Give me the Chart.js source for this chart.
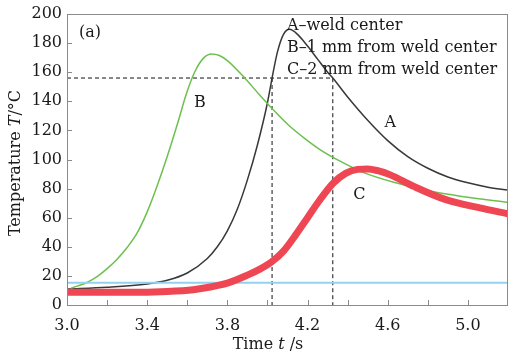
<!DOCTYPE html>
<html>
<head>
<meta charset="utf-8">
<script src="https://cdn.jsdelivr.net/npm/chart.js@4"></script>
<style>
  body { margin: 0; background: #fff; }
  #wrap { width: 509px; height: 357px; }
</style>
</head>
<body>
<div id="wrap"><canvas id="temps" width="509" height="357"></canvas></div>
<script>
// curve A - weld center
const timeA = [3.0, 3.2, 3.4, 3.5, 3.6, 3.7, 3.75, 3.8, 3.85, 3.9, 3.95, 4.0, 4.023, 4.05, 4.08, 4.11, 4.15, 4.2, 4.25, 4.3, 4.326, 4.4, 4.5, 4.6, 4.7, 4.8, 4.9, 5.0, 5.1, 5.2];
const tempA = [11, 12.2, 14.5, 17, 22, 32, 40, 51, 66, 86, 110, 139, 156, 174, 186, 189.5, 186, 178, 169, 160, 156, 143, 127, 113, 102, 94, 88, 84, 81, 79];
// curve B - 1 mm
const timeB = [3.02, 3.05, 3.1, 3.15, 3.2, 3.25, 3.3, 3.35, 3.4, 3.45, 3.5, 3.55, 3.6, 3.64, 3.68, 3.72, 3.76, 3.8, 3.88, 3.96, 4.03, 4.11, 4.19, 4.26, 4.36, 4.48, 4.64, 4.81, 4.97, 5.2];
const tempB = [11.5, 13, 15.5, 19.5, 25, 31.5, 39.5, 49.5, 64, 82, 102, 124, 147, 161, 169.5, 172.5, 171.5, 168, 157, 144.5, 134, 123, 114, 107, 99, 91, 84, 78.3, 74.6, 70.5];
// curve C - 2 mm
const timeC = [3.0, 3.3, 3.5, 3.63, 3.7, 3.8, 3.9, 3.96, 4.02, 4.08, 4.14, 4.2, 4.26, 4.33, 4.39, 4.45, 4.5, 4.55, 4.61, 4.73, 4.89, 5.06, 5.2];
const tempC = [8.7, 8.7, 9.3, 10.5, 12, 15, 20.5, 24.5, 29.5, 37, 48, 60, 72, 84, 90.5, 93.2, 93.5, 92.3, 89.6, 81.5, 72.4, 66.7, 62.7];
// flat blue line
const timeD = [3.0, 5.2];
const tempD = [15.3, 15.3];
// dashed guides
const guideHT = [3.0, 4.326, 4.326];
const guideHV = [156, 156, 0];
const guideVT = [4.023, 4.023];
const guideVV = [156, 0];

const legendLines = ['A\u2013weld center', 'B\u20131 mm from weld center', 'C\u20132 mm from weld center'];
const curveTags = ['A', 'B', 'C'];

const serif = '"DejaVu Serif", serif';

function pts(xs, ys) {
    return xs.map((x, i) => ({x: x, y: ys[i]}));
}

function line(xs, ys, color, width, dash) {
    return {
        data: pts(xs, ys),
        borderColor: color,
        borderWidth: width,
        borderDash: dash || [],
        pointRadius: 0,
        fill: false,
        cubicInterpolationMode: dash ? 'default' : 'monotone',
        tension: 0
    };
}

// draws the frame, inner ticks and all the free text
const extras = {
    id: 'extras',
    afterDraw(chart) {
        const ctx = chart.ctx;
        const a = chart.chartArea;
        const sx = chart.scales.x, sy = chart.scales.y;
        ctx.save();
        ctx.strokeStyle = '#8a8a8a';
        ctx.lineWidth = 1;
        ctx.strokeRect(a.left + 0.5, a.top + 0.5, a.right - a.left - 1, a.bottom - a.top);
        ctx.beginPath();
        for (let v = 20; v < 200; v += 20) {
            const y = Math.round(sy.getPixelForValue(v)) + 0.5;
            ctx.moveTo(a.left, y);
            ctx.lineTo(a.left + 5, y);
        }
        for (let i = 1; i <= 10; i++) {
            const x = Math.round(sx.getPixelForValue(3.0 + i * 0.2)) + 0.5;
            ctx.moveTo(x, a.bottom);
            ctx.lineTo(x, a.bottom - 5);
        }
        ctx.stroke();

        ctx.fillStyle = '#1a1a1a';
        ctx.font = '16px ' + serif;
        ctx.textBaseline = 'alphabetic';
        ctx.textAlign = 'left';
        ctx.fillText('(a)', sx.getPixelForValue(3.06), sy.getPixelForValue(184.5));
        legendLines.forEach((txt, i) => {
            ctx.fillText(txt, sx.getPixelForValue(4.097), sy.getPixelForValue(188.7 - i * 14.9));
        });
        ctx.textAlign = 'center';
        ctx.textBaseline = 'middle';
        const tagPos = [[4.613, 125.3], [3.663, 138.7], [4.459, 75.8]];
        curveTags.forEach((t, i) => {
            ctx.fillText(t, sx.getPixelForValue(tagPos[i][0]), sy.getPixelForValue(tagPos[i][1]));
        });

        // x title
        ctx.textBaseline = 'alphabetic';
        ctx.textAlign = 'left';
        const p1 = 'Time ', p2 = 't', p3 = ' /s';
        ctx.font = '16px ' + serif;
        const w1 = ctx.measureText(p1).width, w3 = ctx.measureText(p3).width;
        ctx.font = 'italic 16px ' + serif;
        const w2 = ctx.measureText(p2).width;
        let x0 = 268 - (w1 + w2 + w3) / 2;
        ctx.font = '16px ' + serif;
        ctx.fillText(p1, x0, 349);
        ctx.font = 'italic 16px ' + serif;
        ctx.fillText(p2, x0 + w1, 349);
        ctx.font = '16px ' + serif;
        ctx.fillText(p3, x0 + w1 + w2, 349);

        // y title
        ctx.translate(19.5, 163);
        ctx.rotate(-Math.PI / 2);
        const q1 = 'Temperature ', q2 = 'T', q3 = '/\u00B0C';
        ctx.font = '16px ' + serif;
        const v1 = ctx.measureText(q1).width, v3 = ctx.measureText(q3).width;
        ctx.font = 'italic 16px ' + serif;
        const v2 = ctx.measureText(q2).width;
        let y0 = -(v1 + v2 + v3) / 2;
        ctx.font = '16px ' + serif;
        ctx.fillText(q1, y0, 0);
        ctx.font = 'italic 16px ' + serif;
        ctx.fillText(q2, y0 + v1, 0);
        ctx.font = '16px ' + serif;
        ctx.fillText(q3, y0 + v1 + v2, 0);
        ctx.restore();
    }
};

const ctx = document.getElementById('temps').getContext('2d');
const myChart = new Chart(ctx, {
    type: 'line',
    data: {
        datasets: [
            line(timeC, tempC, '#ee4652', 7),
            line(timeD, tempD, '#92d2ef', 2),
            line(timeB, tempB, '#6cc04f', 1.5),
            line(timeA, tempA, '#383838', 1.5),
            line(guideHT, guideHV, '#111111', 1, [4, 3]),
            line(guideVT, guideVV, '#111111', 1, [4, 3])
        ]
    },
    options: {
        responsive: false,
        animation: false,
        layout: { padding: { top: 14, right: 1, left: 0, bottom: 0 } },
        plugins: {
            legend: { display: false },
            tooltip: { enabled: false }
        },
        scales: {
            x: {
                type: 'linear',
                min: 3.0,
                max: 5.2,
                afterFit: (s) => {
                    s.height = 52;
                    s.paddingLeft = 0;
                    s.paddingRight = 0;
                },
                grid: { display: false, drawTicks: false },
                border: { display: false },
                ticks: {
                    stepSize: 0.2,
                    padding: 11,
                    color: '#1a1a1a',
                    font: { family: serif, size: 16 },
                    maxRotation: 0,
                    autoSkip: false,
                    callback: (v) => Math.round(v * 10) % 4 === 2 ? v.toFixed(1) : ''
                }
            },
            y: {
                min: 0,
                max: 200,
                afterFit: (s) => {
                    s.width = 67;
                    s.paddingTop = 0;
                    s.paddingBottom = 0;
                },
                grid: { display: false, drawTicks: false },
                border: { display: false },
                ticks: {
                    stepSize: 20,
                    padding: 5,
                    color: '#1a1a1a',
                    font: { family: serif, size: 16 }
                }
            }
        }
    },
    plugins: [extras]
});
</script>
</body>
</html>
